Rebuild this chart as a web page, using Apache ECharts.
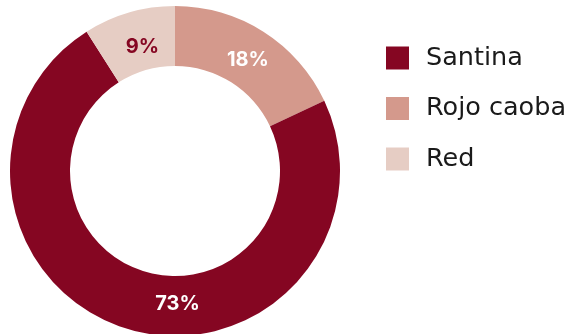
<!DOCTYPE html>
<html><head><meta charset="utf-8">
<script src="https://cdn.jsdelivr.net/npm/echarts@6/dist/echarts.min.js"></script>
<style>html,body{margin:0;padding:0;background:#fff}#c{width:575px;height:334px}</style>
</head><body><div id="c"></div>
<script>
// Data in clockwise order starting from 12 o'clock
const categories = ['Rojo caoba', 'Santina', 'Red'];
const values = [18, 73, 9];
const legendOrder = ['Santina', 'Rojo caoba', 'Red'];
const colors = {'Santina': '#850622', 'Rojo caoba': '#D4998C', 'Red': '#E6CDC4'};
const labelColors = {'Santina': '#ffffff', 'Rojo caoba': '#ffffff', 'Red': '#850622'};
const labelOffsets = {'Santina': [41, 0], 'Rojo caoba': [-1, 6], 'Red': [6, 9]};

const chart = echarts.init(document.getElementById('c'));
chart.setOption({
  animation: false,
  legend: {
    orient: 'vertical', left: 381, top: 40,
    itemWidth: 23, itemHeight: 23, itemGap: 24.5,
    icon: 'rect',
    data: legendOrder,
    textStyle: { fontFamily: 'DejaVu Sans', fontSize: 25.5, color: '#1a1a1a', padding: [0, 0, 0, 12] }
  },
  series: [{
    type: 'pie',
    center: [175, 171],
    radius: [105, 165],
    startAngle: 90,
    clockwise: true,
    avoidLabelOverlap: false,
    labelLine: { show: false },
    data: categories.map((c, i) => ({
      name: c, value: values[i],
      itemStyle: { color: colors[c] },
      label: {
        show: true, position: 'inside',
        formatter: '{c}%',
        color: labelColors[c],
        fontFamily: 'Inter', fontWeight: 'bold', fontSize: 20,
        offset: labelOffsets[c]
      }
    })),
    emphasis: { disabled: true }
  }]
});
</script></body></html>
